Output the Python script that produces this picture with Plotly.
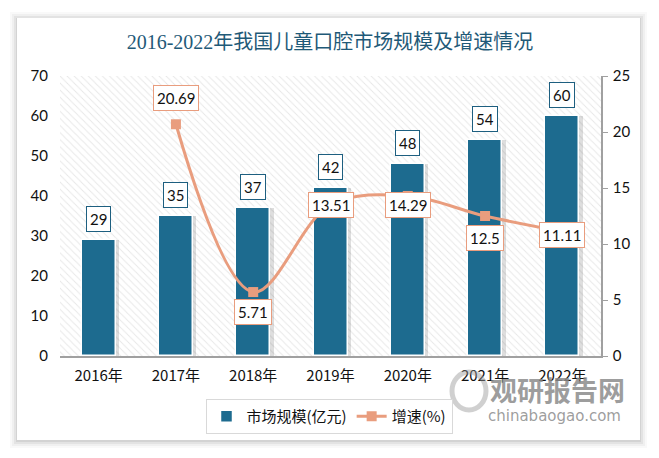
import plotly.graph_objects as go

years = ["2016年", "2017年", "2018年", "2019年", "2020年", "2021年", "2022年"]
market_size = [29, 35, 37, 42, 48, 54, 60]
growth = [None, 20.69, 5.71, 13.51, 14.29, 12.5, 11.11]
growth_labels = ["", "20.69", "5.71", "13.51", "14.29", "12.5", "11.11"]
growth_shift = [0, 26, -20, 0, -9, -22, -3]
left_max = 70

# page body has an 8px default margin; lay out in reference pixels minus 8
OFF = 8
W, H = 659 - OFF, 458 - OFF
L, R, T, B = 60 - OFF, 601 - OFF, 76 - OFF, 356 - OFF
pw, ph = R - L, B - T

def px(x):
    return (x - OFF - L) / pw

def py(y):
    return (B - (y - OFF)) / ph

BAR = "#1d6b8f"
LINE = "#e99d7e"
CJK = "Noto Sans CJK SC"
NUM = "Lato, Noto Sans CJK SC"

fig = go.Figure()

# hatched plot background
fig.add_trace(go.Bar(
    x=years, y=[left_max] * len(years), width=1.0, offset=-0.5, xaxis="x", yaxis="y",
    marker=dict(color="white", line=dict(width=0),
                pattern=dict(shape="\\", fgcolor="#cfcfcf", bgcolor="white", size=5, solidity=0.18)),
    showlegend=False, hoverinfo="skip"))

# bar shadows
fig.add_trace(go.Bar(
    x=years, y=market_size, xaxis="x", yaxis="y", width=0.47, offset=-0.205,
    marker=dict(color="rgba(0,0,0,0.13)", line=dict(width=0)),
    showlegend=False, hoverinfo="skip"))

fig.add_trace(go.Bar(
    x=years, y=market_size, xaxis="x", yaxis="y", width=0.44, offset=-0.22,
    marker=dict(color=BAR, line=dict(color="white", width=1.5)),
    name="市场规模(亿元)"))

fig.add_trace(go.Scatter(
    x=years, y=growth, xaxis="x", yaxis="y2", mode="lines+markers",
    line=dict(color=LINE, width=3, shape="spline", smoothing=1.0),
    marker=dict(symbol="square", size=10, color=LINE),
    name="增速(%)", connectgaps=False))

annotations = []
for yr, v in zip(years, market_size):
    annotations.append(dict(
        x=yr, y=v, xref="x", yref="y", text=str(v), showarrow=False,
        yshift=21, font=dict(family=NUM, size=15, color="#111"),
        bgcolor="white", bordercolor="#1d5f80", borderwidth=1, borderpad=3))
for yr, v, lab, sh in zip(years, growth, growth_labels, growth_shift):
    if v is None:
        continue
    annotations.append(dict(
        x=yr, y=v, xref="x", yref="y2", text=lab, showarrow=False,
        yshift=sh, font=dict(family=NUM, size=15, color="#111"),
        bgcolor="white", bordercolor=LINE, borderwidth=1, borderpad=3))

# watermark
annotations.append(dict(x=px(557), y=py(389), xref="paper", yref="paper", text="<b>观研报告网</b>",
                        xanchor="center", yanchor="middle",
                        showarrow=False, font=dict(family=CJK, size=27, color="rgba(140,140,140,0.85)")))
annotations.append(dict(x=px(554), y=py(416), xref="paper", yref="paper", text="chinabaogao.com",
                        xanchor="center", yanchor="middle",
                        showarrow=False, font=dict(family="DejaVu Sans", size=15, color="rgba(140,140,140,0.85)")))

shapes = []
cx0, cy0, cx1, cy1 = 17, 18, 640, 440
for i, a in [(7, 0.025), (5, 0.035), (3, 0.05), (1, 0.07)]:
    shapes.append(dict(type="rect", xref="paper", yref="paper", layer="below",
                       x0=px(cx0 - i), x1=px(cx1 + i), y0=py(cy1 + i + 1), y1=py(cy0 - i + 1),
                       fillcolor=f"rgba(0,0,0,{a})", line=dict(width=0)))
shapes.append(dict(type="rect", xref="paper", yref="paper", layer="below",
                   x0=px(cx0), x1=px(cx1), y0=py(cy1), y1=py(cy0),
                   fillcolor="white", line=dict(width=0)))
# watermark logo swirl
shapes.append(dict(type="circle", xref="paper", yref="paper", layer="above",
                   x0=px(452), x1=px(486), y0=py(410), y1=py(372),
                   fillcolor="rgba(0,0,0,0)", line=dict(color="rgba(150,150,150,0.45)", width=5)))

fig.update_layout(
    width=W, height=H,
    margin=dict(l=L, r=W - R, t=T, b=H - B, autoexpand=False),
    paper_bgcolor="white", plot_bgcolor="rgba(0,0,0,0)",
    title=dict(text="2016-2022年我国儿童口腔市场规模及增速情况", x=px(330), xref="paper", xanchor="center",
               y=1 - (42 - OFF) / H, yanchor="middle",
               font=dict(family="Liberation Serif, Noto Sans CJK SC", size=20, color="#1f5a78")),
    barmode="overlay",
    bargap=0,
    xaxis=dict(type="category", showline=True, linecolor="#a0a0a0", linewidth=1.5,
               ticks="", showgrid=False, tickfont=dict(family=CJK, size=15, color="#111"),
               ticklabelstandoff=5, range=[-0.5, 6.5], automargin=False),
    yaxis=dict(side="left", range=[0, left_max], dtick=10, showgrid=False, zeroline=False,
               showline=False, ticks="", tickfont=dict(family=NUM, size=15, color="#111"),
               ticklabelstandoff=11, automargin=False),
    yaxis2=dict(overlaying="y", side="right", range=[0, 25], dtick=5, showgrid=False, zeroline=False,
                showline=True, linecolor="#a0a0a0", linewidth=1.5, ticks="outside", ticklen=5,
                tickcolor="#a0a0a0", tickfont=dict(family=NUM, size=15, color="#111"),
                ticklabelstandoff=2, automargin=False),
    legend=dict(orientation="h", x=px(329), xanchor="center", y=py(399), yanchor="top",
                bordercolor="#d9d9d9", borderwidth=1, bgcolor="white",
                font=dict(family=CJK, size=15, color="#111"), traceorder="normal"),
    annotations=annotations,
    shapes=shapes,
)

fig.write_html("out.html")
